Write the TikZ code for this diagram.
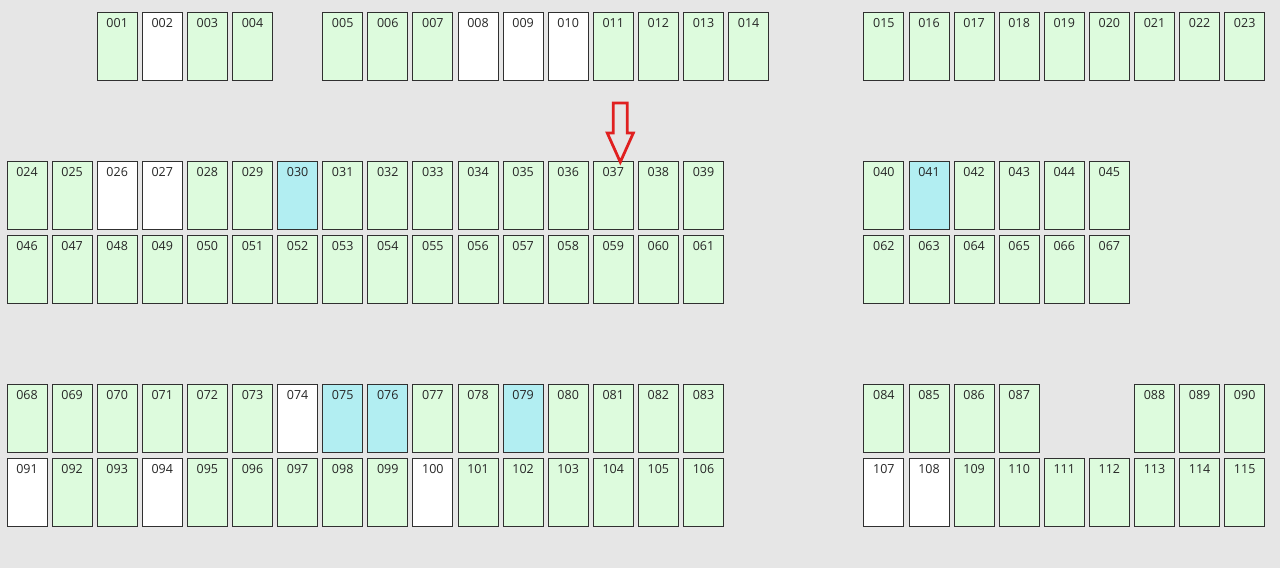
\documentclass[tikz,border=0pt]{standalone}
\usepackage{fontspec}
\setmainfont{Open Sans}
\usepackage{tikz}
\usetikzlibrary{calc}

\definecolor{SeatGreen}{HTML}{DDFBDD}
\definecolor{SeatBlue}{HTML}{B2EEF2}
\definecolor{Floor}{HTML}{E6E6E6}
\definecolor{SeatLine}{HTML}{303030}
\definecolor{ArrowRed}{HTML}{E02020}

\tikzset{
  seat/.style={draw=SeatLine,line width=0.9bp,rectangle,inner sep=0pt,
    minimum width=40bp,minimum height=68bp,text height=15bp,text depth=53bp,
    text=black!85,font=\fontsize{12.5bp}{14bp}\selectfont},
  green/.style={seat,fill=SeatGreen},
  white/.style={seat,fill=white},
  blue/.style={seat,fill=SeatBlue},
}

\begin{document}
\begin{tikzpicture}[line join=miter]
\fill[Floor] (0bp,0bp) rectangle (1280bp,-568bp);
\useasboundingbox (0bp,0bp) rectangle (1280bp,-568bp);
%% front row
\node (n001) at (117.2bp,-46bp) [green] {001};
\node (n002) at (162.3bp,-46bp) [white] {002};
\node (n003) at (207.4bp,-46bp) [green] {003};
\node (n004) at (252.5bp,-46bp) [green] {004};
\node (n005) at (342.7bp,-46bp) [green] {005};
\node (n006) at (387.8bp,-46bp) [green] {006};
\node (n007) at (432.9bp,-46bp) [green] {007};
\node (n008) at (478.0bp,-46bp) [white] {008};
\node (n009) at (523.1bp,-46bp) [white] {009};
\node (n010) at (568.2bp,-46bp) [white] {010};
\node (n011) at (613.3bp,-46bp) [green] {011};
\node (n012) at (658.4bp,-46bp) [green] {012};
\node (n013) at (703.5bp,-46bp) [green] {013};
\node (n014) at (748.6bp,-46bp) [green] {014};
\node (n015) at (883.9bp,-46bp) [green] {015};
\node (n016) at (929.0bp,-46bp) [green] {016};
\node (n017) at (974.1bp,-46bp) [green] {017};
\node (n018) at (1019.2bp,-46bp) [green] {018};
\node (n019) at (1064.3bp,-46bp) [green] {019};
\node (n020) at (1109.4bp,-46bp) [green] {020};
\node (n021) at (1154.5bp,-46bp) [green] {021};
\node (n022) at (1199.6bp,-46bp) [green] {022};
\node (n023) at (1244.7bp,-46bp) [green] {023};
%% second row
\node (n024) at (27.0bp,-195.5bp) [green] {024};
\node (n025) at (72.1bp,-195.5bp) [green] {025};
\node (n026) at (117.2bp,-195.5bp) [white] {026};
\node (n027) at (162.3bp,-195.5bp) [white] {027};
\node (n028) at (207.4bp,-195.5bp) [green] {028};
\node (n029) at (252.5bp,-195.5bp) [green] {029};
\node (n030) at (297.6bp,-195.5bp) [blue] {030};
\node (n031) at (342.7bp,-195.5bp) [green] {031};
\node (n032) at (387.8bp,-195.5bp) [green] {032};
\node (n033) at (432.9bp,-195.5bp) [green] {033};
\node (n034) at (478.0bp,-195.5bp) [green] {034};
\node (n035) at (523.1bp,-195.5bp) [green] {035};
\node (n036) at (568.2bp,-195.5bp) [green] {036};
\node (n037) at (613.3bp,-195.5bp) [green] {037};
\node (n038) at (658.4bp,-195.5bp) [green] {038};
\node (n039) at (703.5bp,-195.5bp) [green] {039};
\node (n040) at (883.9bp,-195.5bp) [green] {040};
\node (n041) at (929.0bp,-195.5bp) [blue] {041};
\node (n042) at (974.1bp,-195.5bp) [green] {042};
\node (n043) at (1019.2bp,-195.5bp) [green] {043};
\node (n044) at (1064.3bp,-195.5bp) [green] {044};
\node (n045) at (1109.4bp,-195.5bp) [green] {045};
%% third row
\node (n046) at (27.0bp,-269.5bp) [green] {046};
\node (n047) at (72.1bp,-269.5bp) [green] {047};
\node (n048) at (117.2bp,-269.5bp) [green] {048};
\node (n049) at (162.3bp,-269.5bp) [green] {049};
\node (n050) at (207.4bp,-269.5bp) [green] {050};
\node (n051) at (252.5bp,-269.5bp) [green] {051};
\node (n052) at (297.6bp,-269.5bp) [green] {052};
\node (n053) at (342.7bp,-269.5bp) [green] {053};
\node (n054) at (387.8bp,-269.5bp) [green] {054};
\node (n055) at (432.9bp,-269.5bp) [green] {055};
\node (n056) at (478.0bp,-269.5bp) [green] {056};
\node (n057) at (523.1bp,-269.5bp) [green] {057};
\node (n058) at (568.2bp,-269.5bp) [green] {058};
\node (n059) at (613.3bp,-269.5bp) [green] {059};
\node (n060) at (658.4bp,-269.5bp) [green] {060};
\node (n061) at (703.5bp,-269.5bp) [green] {061};
\node (n062) at (883.9bp,-269.5bp) [green] {062};
\node (n063) at (929.0bp,-269.5bp) [green] {063};
\node (n064) at (974.1bp,-269.5bp) [green] {064};
\node (n065) at (1019.2bp,-269.5bp) [green] {065};
\node (n066) at (1064.3bp,-269.5bp) [green] {066};
\node (n067) at (1109.4bp,-269.5bp) [green] {067};
%% fourth row
\node (n068) at (27.0bp,-418.5bp) [green] {068};
\node (n069) at (72.1bp,-418.5bp) [green] {069};
\node (n070) at (117.2bp,-418.5bp) [green] {070};
\node (n071) at (162.3bp,-418.5bp) [green] {071};
\node (n072) at (207.4bp,-418.5bp) [green] {072};
\node (n073) at (252.5bp,-418.5bp) [green] {073};
\node (n074) at (297.6bp,-418.5bp) [white] {074};
\node (n075) at (342.7bp,-418.5bp) [blue] {075};
\node (n076) at (387.8bp,-418.5bp) [blue] {076};
\node (n077) at (432.9bp,-418.5bp) [green] {077};
\node (n078) at (478.0bp,-418.5bp) [green] {078};
\node (n079) at (523.1bp,-418.5bp) [blue] {079};
\node (n080) at (568.2bp,-418.5bp) [green] {080};
\node (n081) at (613.3bp,-418.5bp) [green] {081};
\node (n082) at (658.4bp,-418.5bp) [green] {082};
\node (n083) at (703.5bp,-418.5bp) [green] {083};
\node (n084) at (883.9bp,-418.5bp) [green] {084};
\node (n085) at (929.0bp,-418.5bp) [green] {085};
\node (n086) at (974.1bp,-418.5bp) [green] {086};
\node (n087) at (1019.2bp,-418.5bp) [green] {087};
\node (n088) at (1154.5bp,-418.5bp) [green] {088};
\node (n089) at (1199.6bp,-418.5bp) [green] {089};
\node (n090) at (1244.7bp,-418.5bp) [green] {090};
%% back row
\node (n091) at (27.0bp,-492.5bp) [white] {091};
\node (n092) at (72.1bp,-492.5bp) [green] {092};
\node (n093) at (117.2bp,-492.5bp) [green] {093};
\node (n094) at (162.3bp,-492.5bp) [white] {094};
\node (n095) at (207.4bp,-492.5bp) [green] {095};
\node (n096) at (252.5bp,-492.5bp) [green] {096};
\node (n097) at (297.6bp,-492.5bp) [green] {097};
\node (n098) at (342.7bp,-492.5bp) [green] {098};
\node (n099) at (387.8bp,-492.5bp) [green] {099};
\node (n100) at (432.9bp,-492.5bp) [white] {100};
\node (n101) at (478.0bp,-492.5bp) [green] {101};
\node (n102) at (523.1bp,-492.5bp) [green] {102};
\node (n103) at (568.2bp,-492.5bp) [green] {103};
\node (n104) at (613.3bp,-492.5bp) [green] {104};
\node (n105) at (658.4bp,-492.5bp) [green] {105};
\node (n106) at (703.5bp,-492.5bp) [green] {106};
\node (n107) at (883.9bp,-492.5bp) [white] {107};
\node (n108) at (929.0bp,-492.5bp) [white] {108};
\node (n109) at (974.1bp,-492.5bp) [green] {109};
\node (n110) at (1019.2bp,-492.5bp) [green] {110};
\node (n111) at (1064.3bp,-492.5bp) [green] {111};
\node (n112) at (1109.4bp,-492.5bp) [green] {112};
\node (n113) at (1154.5bp,-492.5bp) [green] {113};
\node (n114) at (1199.6bp,-492.5bp) [green] {114};
\node (n115) at (1244.7bp,-492.5bp) [green] {115};

%% hollow marker over 037
\coordinate (tip) at ($(n037.north)+(7bp,-1bp)$);
\draw [ArrowRed,line width=2.8bp]
  (tip) -- ++(-13bp,29bp) -- ++(6bp,0bp) -- ++(0bp,30bp) -- ++(14bp,0bp)
  -- ++(0bp,-30bp) -- ++(6bp,0bp) -- cycle;
\end{tikzpicture}
\end{document}
